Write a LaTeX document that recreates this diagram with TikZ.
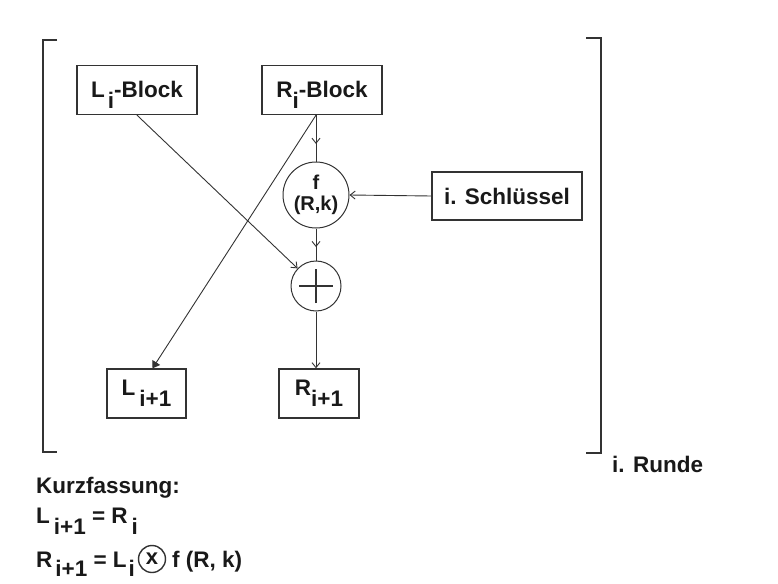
\documentclass[tikz,border=0pt]{standalone}
\usepackage{fontspec}
\setmainfont{Liberation Sans}
\usetikzlibrary{arrows.meta,decorations.markings,calc}

% lowered index, set at full size
\newcommand{\dn}[1]{\raisebox{-11pt}{#1}}

\begin{document}
\begin{tikzpicture}[x=1pt,y=-1pt,
  every node/.style={font=\fontsize{22.5}{26}\selectfont\bfseries, text=black!90, inner sep=0pt},
  blockbox/.style={draw=black!80, line width=1.3pt, minimum width=#1, minimum height=49pt},
  opcircle/.style={circle, draw=black!80, line width=1pt, minimum size=#1},
  wire/.style={draw=black!80, line width=0.9pt},
  barbarrow/.style={-{Straight Barb[length=5pt,width=8pt]}},
  filledarrow/.style={-{Triangle[length=7pt,width=9pt]}},
  midbarb/.style={decoration={markings, mark=at position #1 with {\arrow{Straight Barb[length=5pt,width=8pt]}}}, postaction={decorate}},
  bracket/.style={draw=black!80, line width=1.5pt}
]
\fill[white] (0,0) rectangle (778,583);
\useasboundingbox (0,0) rectangle (778,583);

% round brackets around one round
\draw[bracket] (57,40) -- (43,40) -- (43,452) -- (57,452);
\draw[bracket] (586,38) -- (601,38) -- (601,453) -- (586,453);
\node[anchor=base west] (runde) at (612,472) {i. Runde};

% blocks
\node[blockbox=120pt, text depth=2pt] (Lblock) at (137,90) {L\hspace{3pt}\dn{i}-Block};
\node[blockbox=120pt, text depth=2pt] (Rblock) at (322,90) {R\dn{i}-Block};
\node[opcircle=66pt, align=center, font=\fontsize{20}{21}\selectfont\bfseries] (f) at (316,195) {f\\(R,k)};
\node[opcircle=50pt] (plus) at (316,286) {};
\draw[wire, line width=1.1pt] ([xshift=-17pt]plus.center) -- ([xshift=17pt]plus.center);
\draw[wire, line width=1.1pt] ([yshift=-17pt]plus.center) -- ([yshift=17pt]plus.center);
\node[blockbox=150pt, minimum height=48pt] (key) at (507,196) {i. Schl\"ussel};
\node[blockbox=79pt] (Lnext) at (146.5,393.5) {L\hspace{4pt}\dn{i+1}};
\node[blockbox=80pt] (Rnext) at (319,393.5) {R\dn{i+1}};

% connectors
\draw[wire, midbarb=0.62] (f |- Rblock.south) -- (f.north);
\draw[wire, midbarb=0.58] (f.south) -- (plus.north);
\draw[wire, barbarrow] (key.west) -- (f.east);
\draw[wire, barbarrow] (Lblock.south) -- (plus);
\draw[wire, filledarrow] (f |- Rblock.south) -- ([xshift=6pt]Lnext.north);
\draw[wire, barbarrow] (plus.south) -- (plus.south |- Rnext.north);

% summary
\node[anchor=base west] (sum) at (36,493) {Kurzfassung:};
\node[anchor=base west] (eq1) at (36,523) {L\hspace{4pt}\dn{i+1} = R\hspace{4pt}\dn{i}};
\node[anchor=base west] (eq2) at (36,567) {R\hspace{3pt}\raisebox{-9pt}{i+1} = L\hspace{2pt}\raisebox{-9pt}{i}};
\node[opcircle=27pt, line width=1.4pt, font=\fontsize{22}{24}\selectfont\bfseries] (xor) at (152,559) {x};
\node[anchor=base west] (eq2f) at (172,567) {f (R, k)};
\end{tikzpicture}
\end{document}
